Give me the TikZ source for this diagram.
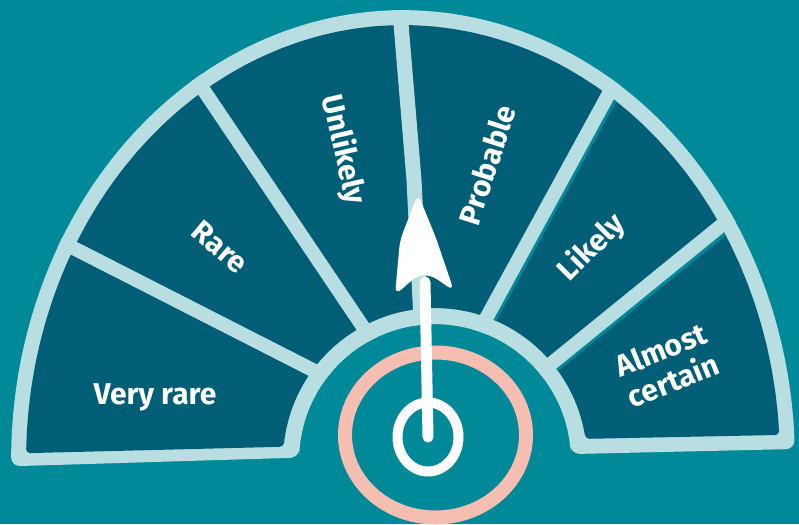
\documentclass[tikz,border=0pt]{standalone}
\usepackage{fontspec}
\setmainfont{Fira Sans}
\usepackage{xcolor}

\definecolor{sea}{RGB}{0,137,153}
\definecolor{deep}{RGB}{0,94,119}
\definecolor{mist}{RGB}{184,222,226}
\definecolor{blush}{RGB}{246,190,177}

\newcommand{\rimpath}{plot[domain=179.2:358.6, samples=61] ({403+392*cos(\x)},{460+450*sin(\x)})
  -- plot[domain=357.5:181, samples=41] ({435+136*cos(\x)},{460+136*sin(\x)}) -- cycle}
\newcommand{\facepath}{plot[domain=180.9:356.7, samples=61] ({403+377*cos(\x)},{460+435*sin(\x)})
  -- plot[domain=352:185, samples=41] ({435+152*cos(\x)},{460+152*sin(\x)}) -- cycle}

\begin{document}
\begin{tikzpicture}[x=1pt, y=-1pt,
  lbl/.style={text=white, font=\fontsize{30}{33}\selectfont\bfseries, align=center, inner sep=0pt},
  divider/.style={mist, line width=14pt},
  shadow/.style={sea, line width=14pt},
  needle/.style={white, line width=11pt, line cap=round}
]
  \useasboundingbox (0,0) rectangle (799,524);
  \fill[sea] (0,0) rectangle (799,524);

  % rim and face of the gauge
  \fill[mist, rounded corners=9pt] \rimpath;
  \fill[deep, rounded corners=4pt] \facepath;

  \begin{scope}
    \clip \facepath;
    \draw[shadow] (633,56) -- (468,358);
    \draw[shadow] (762,197) -- (522,391);
  \end{scope}

  \begin{scope}
    \clip \rimpath;
    \foreach \xa/\ya/\xb/\yb in {40/231/350/389, 180/55/390/367, 630/55/465/357, 760/194/520/389}
      \draw[divider] (\xa,\ya) -- (\xb,\yb);
    \draw[divider, line width=15pt] (399,0) -- (414,180) -- (422,340);
  \end{scope}

  % dial
  \draw[blush, line width=14pt] (435.5,435) ellipse [x radius=90.5, y radius=82.5];
  \draw[white, line width=10pt] (428,437) ellipse [x radius=30.5, y radius=34.5];
  \draw[needle] (428,437) -- (425,282);
  \fill[white, rounded corners=8pt] (418,194) -- (436,238) -- (454,291) -- (431,275) -- (418,275) -- (395,295) -- (400,240) -- cycle;

  \node[lbl] (vrare) at (155,397) {Very rare};
  \node[lbl, rotate=-40] (rare) at (220,247) {Rare};
  \node[lbl, rotate=-77] (unlikely) at (343,150) {Unlikely};
  \node[lbl, rotate=72] (probable) at (487,165) {Probable};
  \node[lbl, rotate=45] (likely) at (592,248) {Likely};
  \node[lbl, rotate=22] (certain) at (667,365) {Almost\\certain};
\end{tikzpicture}
\end{document}
